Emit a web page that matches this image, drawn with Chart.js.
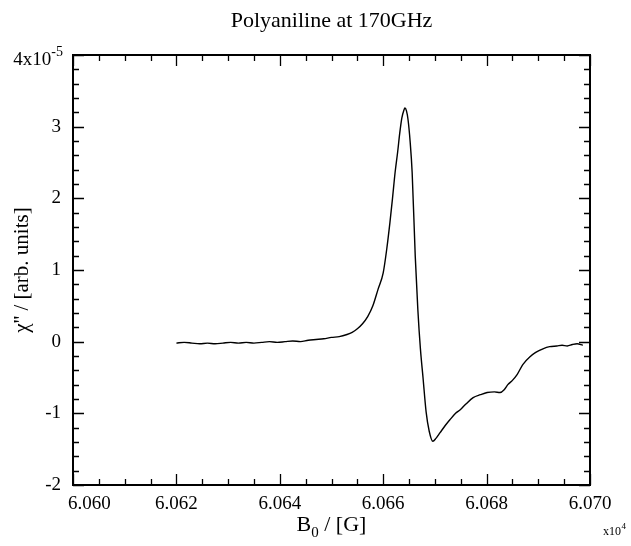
<!DOCTYPE html>
<html>
<head>
<meta charset="utf-8">
<script src="https://cdn.jsdelivr.net/npm/chart.js@4"></script>
<style>
  html, body { margin: 0; padding: 0; background: #fff; }
  canvas { display: block; }
</style>
</head>
<body>
<canvas id="c" width="631" height="546"></canvas>
<script>
// Magnetic field B0 in Gauss
const fieldG = [
  60620.0, 60621.5, 60623.0, 60624.5, 60626.0, 60627.5, 60629.0, 60630.5, 60632.0, 60633.5,
  60635.0, 60636.5, 60638.0, 60639.5, 60641.0, 60642.5, 60644.0, 60645.5, 60647.0, 60648.5,
  60650.0, 60651.5, 60653.0, 60654.0, 60655.0, 60656.0, 60657.0, 60658.0, 60659.0, 60660.0,
  60660.7, 60661.3, 60661.8, 60662.3, 60662.8, 60663.2, 60663.6, 60664.0, 60664.2, 60664.5,
  60664.8, 60665.2, 60665.6, 60666.2, 60666.7, 60667.2, 60667.7, 60668.3, 60668.9, 60669.6,
  60670.2, 60671.0, 60672.0, 60672.9, 60674.0, 60674.9, 60676.0, 60677.4, 60678.8, 60680.1,
  60681.5, 60682.6, 60683.4, 60684.1, 60685.0, 60685.9, 60687.0, 60688.4, 60689.5, 60690.9,
  60692.2, 60693.6, 60694.6, 60695.6, 60696.6, 60697.5, 60698.6
];
// chi'' in units of 1e-5
const chiValues = [
  -0.02, -0.01, -0.02, -0.03, -0.02, -0.03, -0.02, -0.01, -0.02, -0.01,
  -0.02, -0.01, 0.00, -0.01, 0.00, 0.01, 0.00, 0.02, 0.03, 0.04,
  0.06, 0.07, 0.10, 0.13, 0.18, 0.25, 0.35, 0.50, 0.73, 0.96,
  1.30, 1.66, 2.00, 2.36, 2.65, 2.91, 3.12, 3.23, 3.26, 3.22,
  3.10, 2.80, 2.36, 1.19, 0.45, -0.10, -0.50, -0.98, -1.25, -1.39,
  -1.35, -1.27, -1.17, -1.09, -1.00, -0.95, -0.87, -0.78, -0.74, -0.71,
  -0.70, -0.71, -0.67, -0.60, -0.54, -0.46, -0.32, -0.21, -0.15, -0.10,
  -0.07, -0.06, -0.05, -0.06, -0.04, -0.03, -0.05
];
const xTickValues = [60600, 60620, 60640, 60660, 60680, 60700];
const xTickLabels = ['6.060', '6.062', '6.064', '6.066', '6.068', '6.070'];
const yTickValues = [-2, -1, 0, 1, 2, 3, 4];
const yTickLabels = ['-2', '-1', '0', '1', '2', '3', ''];
const yTopLabel = '4x10';
const yTopExponent = '-5';
const xMultiplierBase = 'x10';
const xMultiplierExp = '4';
const chartTitle = 'Polyaniline at 170GHz';
const xTitleMain = 'B';
const xTitleSub = '0';
const xTitleRest = ' / [G]';
const yTitle = "\u03C7'' / [arb. units]";

const SERIF = "'Liberation Serif', 'Times New Roman', 'DejaVu Serif', serif";

const framePlugin = {
  id: 'frameTicks',
  afterDraw(chart) {
    const ctx = chart.ctx;
    const a = chart.chartArea;
    const xs = chart.scales.x, ys = chart.scales.y;
    ctx.save();
    ctx.strokeStyle = '#000';
    ctx.lineCap = 'butt';
    // inward ticks on all four sides
    ctx.lineWidth = 1.3;
    ctx.beginPath();
    for (let i = 0; i < xTickValues.length; i++) {
      const v0 = xTickValues[i];
      for (let k = 0; k < 4; k++) {
        if (i === xTickValues.length - 1 && k > 0) break;
        const v = v0 + k * 5;
        const p = Math.round(xs.getPixelForValue(v)) + 0.5;
        const len = k === 0 ? 11 : 6;
        ctx.moveTo(p, a.bottom); ctx.lineTo(p, a.bottom - len);
        ctx.moveTo(p, a.top); ctx.lineTo(p, a.top + len);
      }
    }
    for (let i = 0; i < yTickValues.length; i++) {
      const v0 = yTickValues[i];
      for (let k = 0; k < 5; k++) {
        if (i === yTickValues.length - 1 && k > 0) break;
        const v = v0 + k * 0.2;
        const p = Math.round(ys.getPixelForValue(v)) + 0.5;
        const len = k === 0 ? 11 : 6;
        ctx.moveTo(a.left, p); ctx.lineTo(a.left + len, p);
        ctx.moveTo(a.right, p); ctx.lineTo(a.right - len, p);
      }
    }
    ctx.stroke();
    // frame
    ctx.lineWidth = 2;
    ctx.strokeRect(a.left, a.top, a.right - a.left, a.bottom - a.top);

    ctx.fillStyle = '#000';
    // title centred over the plot area
    ctx.font = '22px ' + SERIF;
    ctx.textAlign = 'center';
    ctx.textBaseline = 'middle';
    ctx.fillText(chartTitle, (a.left + a.right) / 2, 21);

    // first x tick label, nudged inside like the original
    ctx.font = '19px ' + SERIF;
    ctx.textAlign = 'left';
    ctx.textBaseline = 'middle';
    ctx.fillText(xTickLabels[0], xs.getPixelForValue(xTickValues[0]) - 5, 504);

    // top y label 4x10^-5
    const yTop = ys.getPixelForValue(4);
    const expFont = '14px ' + SERIF;
    ctx.save();
    ctx.font = expFont;
    const expW = ctx.measureText(yTopExponent).width;
    ctx.restore();
    const labelRight = a.left - 10;
    ctx.font = '19px ' + SERIF;
    ctx.textAlign = 'right';
    ctx.fillText(yTopLabel, labelRight - expW, yTop + 5);
    ctx.font = expFont;
    ctx.textAlign = 'left';
    ctx.fillText(yTopExponent, labelRight - expW, yTop - 3);

    // x title with subscript
    const cx = (a.left + a.right) / 2;
    ctx.font = '22px ' + SERIF;
    const wB = ctx.measureText(xTitleMain).width;
    const wR = ctx.measureText(xTitleRest).width;
    ctx.font = '15px ' + SERIF;
    const wS = ctx.measureText(xTitleSub).width;
    const sx = cx - (wB + wS + wR) / 2;
    ctx.textBaseline = 'alphabetic';
    ctx.textAlign = 'left';
    ctx.font = '22px ' + SERIF;
    ctx.fillText(xTitleMain, sx, 531);
    ctx.font = '15px ' + SERIF;
    ctx.fillText(xTitleSub, sx + wB, 537);
    ctx.font = '22px ' + SERIF;
    ctx.fillText(xTitleRest, sx + wB + wS, 531);

    // x10^4 multiplier
    ctx.font = '12px ' + SERIF;
    const wM = ctx.measureText(xMultiplierBase).width;
    const mx = 621 - wM;
    ctx.fillText(xMultiplierBase, mx, 535);
    ctx.font = '9px ' + SERIF;
    ctx.fillText(xMultiplierExp, mx + wM + 0.5, 529);
    ctx.restore();
  }
};

new Chart(document.getElementById('c'), {
  type: 'line',
  data: {
    datasets: [{
      data: fieldG.map((x, i) => ({ x: x, y: chiValues[i] })),
      borderColor: '#000',
      borderWidth: 1.4,
      pointRadius: 0,
      fill: false,
      cubicInterpolationMode: 'monotone'
    }]
  },
  options: {
    responsive: false,
    animation: false,
    devicePixelRatio: 1,
    layout: { padding: { left: 0, right: 41, top: 55, bottom: 0 } },
    plugins: {
      legend: { display: false },
      tooltip: { enabled: false },
      title: { display: false }
    },
    scales: {
      x: {
        type: 'linear',
        min: 60600,
        max: 60700,
        afterBuildTicks: (s) => { s.ticks = xTickValues.map(v => ({ value: v })); },
        afterFit: (s) => { s.height = 61; },
        ticks: {
          autoSkip: false,
          maxRotation: 0,
          padding: 8,
          color: '#000',
          font: { family: SERIF, size: 19 },
          callback: (v) => { const i = xTickValues.indexOf(v); return i > 0 ? xTickLabels[i] : ''; }
        },
        grid: { display: false, drawTicks: false, tickLength: 0 },
        border: { display: false }
      },
      y: {
        type: 'linear',
        min: -2,
        max: 4,
        afterBuildTicks: (s) => { s.ticks = yTickValues.map(v => ({ value: v })); },
        afterFit: (s) => { s.width = 73; },
        ticks: {
          autoSkip: false,
          padding: 12,
          color: '#000',
          font: { family: SERIF, size: 19 },
          callback: (v) => { const i = yTickValues.indexOf(v); return i >= 0 ? yTickLabels[i] : ''; }
        },
        title: {
          display: true,
          text: yTitle,
          color: '#000',
          font: { family: SERIF, size: 21 },
          padding: { top: 10, bottom: 0 }
        },
        grid: { display: false, drawTicks: false, tickLength: 0 },
        border: { display: false }
      }
    }
  },
  plugins: [framePlugin]
});
</script>
</body>
</html>
